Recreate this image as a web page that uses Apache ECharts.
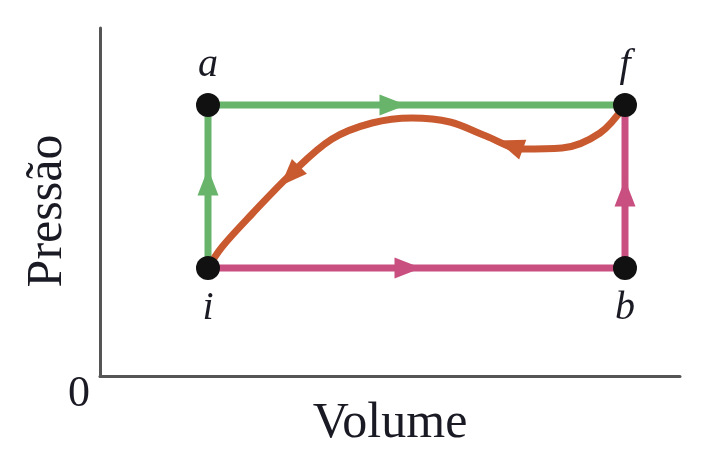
<!DOCTYPE html>
<html>
<head>
<meta charset="utf-8">
<script src="https://cdn.jsdelivr.net/npm/echarts@6/dist/echarts.min.js"></script>
<style>
  html, body { margin: 0; padding: 0; background: #fff; }
  #chart { width: 712px; height: 462px; }
</style>
</head>
<body>
<div id="chart"></div>
<script>
// states (volume, pressure) in arbitrary units
var stateNames = ['i', 'a', 'f', 'b']
var stateVolume = [108, 108, 525, 525]
var statePressure = [108, 271, 271, 108]

// process paths
var greenPath = [[108, 108], [108, 271], [525, 271]]     // i -> a -> f
var magentaPath = [[108, 108], [525, 108], [525, 271]]   // i -> b -> f
var orangePath = [                                       // f -> i
    [525, 271], [500, 243], [462, 228], [422, 227], [386, 240],
    [350, 254], [312, 258], [272, 253], [232, 237], [192, 203],
    [152, 162], [122, 129], [108, 108]
]

// where the arrowheads sit
var greenArrows = [[108, 194], [293, 271]]
var magentaArrows = [[308, 108], [525, 183]]
var orangeArrows = [[410, 231], [190, 200]]

var GREEN = '#68b46a'
var MAGENTA = '#c94f80'
var ORANGE = '#c95a30'
var INK = '#1a1a24'
var SERIF = '"Liberation Serif", "DejaVu Serif", serif'

// rotation of a triangle so it follows the path (1 unit = 1 px on both axes)
function arrowAngle (path, p) {
    let best = null
    let bestD = Infinity
    for (let k = 0; k < path.length - 1; k++) {
        let a = path[k], b = path[k + 1]
        let dx = b[0] - a[0], dy = b[1] - a[1]
        let len2 = dx * dx + dy * dy
        let t = len2 ? ((p[0] - a[0]) * dx + (p[1] - a[1]) * dy) / len2 : 0
        t = Math.max(0, Math.min(1, t))
        let qx = a[0] + t * dx - p[0], qy = a[1] + t * dy - p[1]
        let d = qx * qx + qy * qy
        if (d < bestD) {
            bestD = d
            best = [dx, dy]
        }
    }
    let ang = Math.atan2(best[1], best[0]) * 180 / Math.PI - 90
    return ((ang % 360) + 540) % 360 - 180
}

function arrowSeries (path, arrows, color) {
    return {
        type: 'scatter',
        symbol: 'triangle',
        symbolSize: [21, 27],
        z: 4,
        itemStyle: { color: color, opacity: 1 },
        data: arrows.map(p => ({ value: p, symbolRotate: arrowAngle(path, p) }))
    }
}

function pathSeries (path, color, smooth) {
    return {
        type: 'line',
        data: path,
        smooth: smooth ? 0.35 : false,
        symbol: 'none',
        z: 3,
        lineStyle: { color: color, width: 7, cap: 'round' }
    }
}

let labelPos = { i: 'bottom', b: 'bottom', a: 'top', f: 'top' }

let option = {
    animation: false,
    grid: { left: 100, right: 32, top: 28, bottom: 86 },
    xAxis: {
        type: 'value',
        min: 0,
        max: 580,
        name: 'Volume',
        nameLocation: 'middle',
        nameGap: 23,
        nameTextStyle: { fontFamily: SERIF, fontSize: 50, color: INK },
        axisLine: { show: true, lineStyle: { color: '#555', width: 3 } },
        axisTick: { show: false },
        axisLabel: { show: false },
        splitLine: { show: false }
    },
    yAxis: {
        type: 'value',
        min: 0,
        max: 348,
        name: 'Pressão',
        nameLocation: 'middle',
        nameGap: 27,
        nameTextStyle: { fontFamily: SERIF, fontSize: 50, color: INK, padding: [0, 18, 0, 0] },
        axisLine: { show: true, lineStyle: { color: '#555', width: 3 } },
        axisTick: { show: false },
        axisLabel: { show: false },
        splitLine: { show: false }
    },
    graphic: [{
        type: 'text',
        left: 68,
        top: 372,
        style: { text: '0', font: '44px ' + SERIF, fill: INK }
    }],
    series: [
        pathSeries(greenPath, GREEN),
        pathSeries(magentaPath, MAGENTA),
        pathSeries(orangePath, ORANGE, true),
        arrowSeries(greenPath, greenArrows, GREEN),
        arrowSeries(magentaPath, magentaArrows, MAGENTA),
        arrowSeries(orangePath, orangeArrows, ORANGE),
        {
            type: 'scatter',
            symbolSize: 24,
            z: 5,
            itemStyle: { color: '#111', opacity: 1 },
            data: stateNames.map((n, k) => ({
                name: n,
                value: [stateVolume[k], statePressure[k]],
                label: {
                    show: true,
                    position: labelPos[n],
                    distance: 8,
                    formatter: n,
                    fontFamily: SERIF,
                    fontStyle: 'italic',
                    fontSize: 40,
                    color: INK
                }
            }))
        }
    ]
}

let chart = echarts.init(document.getElementById('chart'))
chart.setOption(option)
</script>
</body>
</html>
